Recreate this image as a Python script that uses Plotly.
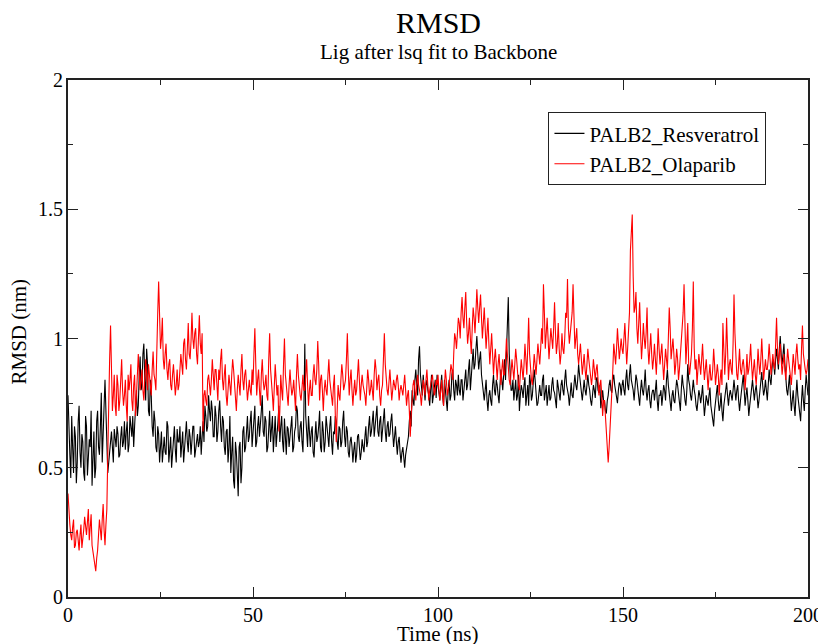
import plotly.graph_objects as go

# sampling interval of the trajectory (ns)
dt_ns = 0.25

# y-axis tick values and labels (nm)
y_tick_vals = [0, 0.5, 1, 1.5, 2]
y_tick_text = ["0", "0.5", "1", "1.5", "2"]

# RMSD (nm) of PALB2_Resveratrol at t = 0, 0.5, 1.0, ... 200 ns
resveratrol_a = [
    0.78, 0.55, 0.70, 0.48, 0.62, 0.52, 0.74, 0.50, 0.60, 0.45, 0.66, 0.53, 0.58, 0.43, 0.64, 0.50, 0.72, 0.55, 0.79, 0.60,
    0.84, 0.62, 0.52, 0.60, 0.56, 0.65, 0.58, 0.63, 0.55, 0.66, 0.60, 0.57, 0.68, 0.59, 0.64, 0.70, 0.66, 0.80, 0.74, 0.93,
    0.82, 0.98, 0.76, 0.90, 0.70, 0.78, 0.62, 0.68, 0.56, 0.63, 0.58, 0.52, 0.62, 0.55, 0.66, 0.58, 0.50, 0.62, 0.57, 0.65,
    0.60, 0.54, 0.64, 0.58, 0.68, 0.56, 0.62, 0.59, 0.66, 0.57, 0.63, 0.60, 0.55, 0.68, 0.74, 0.64, 0.78, 0.68, 0.72, 0.62,
    0.70, 0.64, 0.76, 0.60, 0.68, 0.55, 0.65, 0.58, 0.48, 0.62, 0.42, 0.56, 0.39, 0.60, 0.50, 0.66, 0.58, 0.70, 0.62, 0.72,
    0.64, 0.74, 0.60, 0.70, 0.66, 0.78, 0.62, 0.68, 0.58, 0.72, 0.64, 0.56, 0.70, 0.62, 0.74, 0.66, 0.60, 0.69, 0.55, 0.65,
    0.62, 0.70, 0.58, 0.66, 0.72, 0.60, 0.68, 0.56, 0.98, 0.64, 0.70, 0.58, 0.66, 0.54, 0.68, 0.62, 0.72, 0.56, 0.64, 0.60,
    0.66, 0.58, 0.70, 0.55, 0.63, 0.68, 0.57, 0.65, 0.60, 0.72, 0.58, 0.64, 0.54, 0.62, 0.52, 0.60, 0.55, 0.63, 0.53, 0.61,
    0.56, 0.66, 0.60, 0.70, 0.64, 0.72, 0.66, 0.74, 0.62, 0.70, 0.65, 0.73, 0.60, 0.68, 0.63, 0.71, 0.58, 0.66, 0.55, 0.62,
    0.52, 0.58, 0.50, 0.57, 0.62, 0.72, 0.80, 0.74, 0.88, 0.78, 0.97, 0.82, 0.86, 0.76, 0.84, 0.78, 0.82, 0.75, 0.80, 0.77,
    0.82, 0.76, 0.86, 0.74, 0.80, 0.72, 0.84, 0.78, 0.88, 0.76, 0.82, 0.86, 0.78, 0.84, 0.80, 0.88, 0.82, 0.92, 0.85, 0.96,
    0.90, 1.01, 0.88, 0.95, 0.82, 0.76, 0.84, 0.72, 0.80, 0.74, 0.86, 0.78, 0.82, 0.75, 0.88, 0.80, 0.92, 0.98, 1.16, 0.86,
    0.80, 0.76, 0.84, 0.78, 0.72, 0.82, 0.77, 0.85, 0.79, 0.74, 0.83, 0.78, 0.88, 0.80, 0.75, 0.82, 0.78, 0.86, 0.80, 0.74,
    0.82, 0.77, 0.85, 0.79, 0.73, 0.81, 0.76, 0.84, 0.78, 0.88, 0.80, 0.74, 0.83, 0.77, 0.86, 0.80, 0.90, 0.82, 0.76, 0.84,
    0.78, 0.86, 0.80, 0.74, 0.82, 0.77, 0.85, 0.79, 0.73, 0.80, 0.76, 0.71, 0.78, 0.84, 0.79, 0.86, 0.80, 0.75, 0.83, 0.78,
    0.84, 0.78, 0.88, 0.80, 0.90, 0.82, 0.76, 0.86, 0.80, 0.74, 0.84, 0.78, 0.88, 0.76, 0.82, 0.73, 0.80, 0.76, 0.84, 0.72,
    0.78, 0.74, 0.82, 0.76, 0.88, 0.78, 0.72, 0.80, 0.75, 0.84, 0.78, 0.72, 0.86, 0.80, 0.74, 0.90, 0.82, 0.76, 0.84, 0.78,
    0.72, 0.80, 0.75, 0.82, 0.70, 0.78, 0.74, 0.81, 0.71, 0.66, 0.76, 0.82, 0.72, 0.79, 0.68, 0.77, 0.83, 0.74, 0.80, 0.76,
    0.84, 0.76, 0.82, 0.72, 0.79, 0.86, 0.74, 0.81, 0.70, 0.78, 0.84, 0.76, 0.82, 0.73, 0.80, 0.87, 0.78, 0.84, 0.76, 0.88,
    0.82, 0.92, 0.86, 0.96, 0.88, 1.01, 0.90, 0.98, 0.84, 0.78, 0.86, 0.72, 0.80, 0.70, 0.84, 0.74, 0.68, 0.82, 0.72, 0.86,
    0.78,
]

# RMSD (nm) of PALB2_Resveratrol at t = 0.25, 0.75, ... 199.75 ns
resveratrol_b = [
    0.62, 0.46, 0.58, 0.66, 0.44, 0.68, 0.56, 0.63, 0.48, 0.70, 0.47, 0.61, 0.72, 0.55, 0.46, 0.68, 0.58, 0.66, 0.52, 0.74,
    0.70, 0.48, 0.58, 0.64, 0.52, 0.60, 0.66, 0.54, 0.62, 0.58, 0.68, 0.64, 0.56, 0.70, 0.62, 0.58, 0.76, 0.70, 0.86, 0.80,
    0.94, 0.84, 0.96, 0.72, 0.84, 0.66, 0.72, 0.58, 0.66, 0.52, 0.64, 0.60, 0.56, 0.68, 0.52, 0.62, 0.56, 0.66, 0.52, 0.60,
    0.66, 0.60, 0.52, 0.62, 0.60, 0.65, 0.55, 0.66, 0.54, 0.62, 0.58, 0.66, 0.62, 0.60, 0.70, 0.66, 0.72, 0.76, 0.62, 0.74,
    0.60, 0.72, 0.66, 0.70, 0.58, 0.64, 0.52, 0.70, 0.56, 0.45, 0.60, 0.48, 0.58, 0.44, 0.64, 0.56, 0.64, 0.60, 0.68, 0.58,
    0.70, 0.58, 0.66, 0.62, 0.72, 0.64, 0.70, 0.56, 0.66, 0.60, 0.70, 0.62, 0.58, 0.68, 0.60, 0.70, 0.56, 0.62, 0.66, 0.58,
    0.66, 0.56, 0.64, 0.74, 0.62, 0.66, 0.60, 0.72, 0.70, 0.58, 0.62, 0.64, 0.56, 0.62, 0.60, 0.66, 0.58, 0.68, 0.56, 0.70,
    0.62, 0.66, 0.60, 0.64, 0.70, 0.60, 0.66, 0.58, 0.68, 0.62, 0.66, 0.56, 0.60, 0.58, 0.57, 0.52, 0.62, 0.58, 0.56, 0.58,
    0.62, 0.58, 0.66, 0.62, 0.68, 0.62, 0.70, 0.64, 0.68, 0.60, 0.72, 0.64, 0.66, 0.62, 0.68, 0.64, 0.62, 0.60, 0.60, 0.56,
    0.56, 0.54, 0.55, 0.60, 0.68, 0.66, 0.76, 0.84, 0.82, 0.92, 0.86, 0.78, 0.80, 0.82, 0.80, 0.74, 0.86, 0.79, 0.84, 0.86,
    0.78, 0.82, 0.78, 0.84, 0.76, 0.80, 0.76, 0.86, 0.80, 0.84, 0.78, 0.80, 0.84, 0.76, 0.86, 0.80, 0.88, 0.80, 0.90, 0.88,
    0.96, 0.94, 0.92, 0.86, 0.78, 0.80, 0.76, 0.78, 0.76, 0.82, 0.80, 0.84, 0.78, 0.82, 0.84, 0.86, 0.84, 1.04, 0.94, 0.80,
    0.84, 0.80, 0.76, 0.86, 0.78, 0.80, 0.82, 0.74, 0.82, 0.86, 0.76, 0.82, 0.84, 0.74, 0.80, 0.78, 0.84, 0.76, 0.82, 0.80,
    0.76, 0.82, 0.80, 0.76, 0.84, 0.78, 0.82, 0.80, 0.84, 0.82, 0.78, 0.80, 0.78, 0.82, 0.82, 0.84, 0.86, 0.78, 0.80, 0.80,
    0.82, 0.82, 0.76, 0.78, 0.80, 0.84, 0.80, 0.82, 0.76, 0.76, 0.72, 0.76, 0.82, 0.80, 0.84, 0.82, 0.78, 0.80, 0.82, 0.82,
    0.80, 0.84, 0.82, 0.86, 0.84, 0.80, 0.82, 0.84, 0.76, 0.80, 0.80, 0.82, 0.80, 0.80, 0.76, 0.78, 0.80, 0.80, 0.76, 0.78,
    0.80, 0.78, 0.80, 0.84, 0.82, 0.76, 0.78, 0.76, 0.80, 0.82, 0.74, 0.80, 0.82, 0.76, 0.80, 0.84, 0.78, 0.80, 0.80, 0.74,
    0.76, 0.78, 0.78, 0.76, 0.74, 0.76, 0.78, 0.74, 0.70, 0.72, 0.80, 0.76, 0.74, 0.72, 0.74, 0.80, 0.78, 0.78, 0.78, 0.80,
    0.80, 0.80, 0.76, 0.76, 0.82, 0.80, 0.78, 0.76, 0.74, 0.82, 0.80, 0.80, 0.78, 0.76, 0.84, 0.82, 0.80, 0.80, 0.82, 0.84,
    0.88, 0.90, 0.92, 0.92, 0.96, 0.94, 0.94, 0.90, 0.80, 0.82, 0.78, 0.76, 0.74, 0.78, 0.78, 0.70, 0.76, 0.76, 0.80, 0.82,
]

# RMSD (nm) of PALB2_Olaparib at t = 0, 0.5, 1.0, ... 200 ns
olaparib_a = [
    0.40, 0.28, 0.22, 0.30, 0.20, 0.26, 0.18, 0.28, 0.22, 0.31, 0.24, 0.34, 0.27, 0.20, 0.14, 0.10, 0.18, 0.30, 0.22, 0.36,
    0.20, 0.34, 0.78, 1.05, 0.72, 0.86, 0.70, 0.82, 0.76, 0.92, 0.74, 0.84, 0.68, 0.80, 0.90, 0.72, 0.86, 0.78, 0.94, 0.80,
    0.88, 0.76, 0.92, 0.80, 0.86, 0.78, 0.95, 0.84, 1.02, 1.22, 0.96, 1.08, 0.88, 0.98, 0.84, 0.92, 0.80, 0.90, 0.78, 0.88,
    0.82, 0.94, 0.86, 1.00, 0.88, 1.06, 0.92, 1.10, 0.96, 1.04, 0.90, 1.09, 0.94, 0.64, 0.80, 0.74, 0.86, 0.78, 0.92, 0.80,
    0.88, 0.76, 0.84, 0.96, 0.80, 0.90, 0.74, 0.86, 0.78, 0.92, 0.82, 0.72, 0.86, 0.78, 0.94, 0.80, 0.88, 0.76, 0.84, 0.78,
    0.82, 1.04, 0.78, 0.88, 0.74, 0.92, 0.80, 0.86, 0.76, 1.02, 0.84, 0.72, 0.90, 0.78, 0.64, 0.86, 0.76, 1.00, 0.82, 0.74,
    0.88, 0.78, 0.84, 0.72, 0.94, 0.80, 0.76, 0.86, 0.80, 0.92, 0.74, 0.84, 0.78, 0.90, 0.82, 0.99, 0.76, 0.86, 0.72, 0.84,
    0.78, 0.92, 0.80, 0.74, 0.86, 0.60, 0.82, 0.76, 0.90, 0.80, 0.84, 1.02, 0.78, 0.88, 0.74, 0.84, 0.80, 0.92, 0.76, 0.86,
    0.80, 0.74, 0.88, 0.78, 0.84, 0.76, 0.92, 0.80, 0.86, 0.74, 0.82, 1.02, 0.84, 0.78, 0.88, 0.76, 0.84, 0.80, 0.86, 0.76,
    0.82, 0.78, 0.86, 0.74, 0.80, 0.62, 0.78, 0.84, 0.76, 0.86, 0.80, 0.74, 0.84, 0.78, 0.88, 0.76, 0.82, 0.86, 0.78, 0.84,
    0.86, 0.76, 0.84, 0.74, 0.88, 0.78, 0.82, 0.90, 0.84, 1.02, 0.96, 1.08, 1.00, 1.16, 1.04, 1.18, 0.98, 1.08, 0.94, 1.12,
    1.02, 1.19, 1.06, 1.17, 1.00, 1.12, 0.96, 1.08, 0.90, 1.02, 0.86, 0.96, 0.84, 0.94, 0.82, 0.92, 0.86, 1.00, 0.88, 0.82,
    0.92, 0.84, 0.96, 0.86, 0.80, 0.92, 0.84, 0.98, 0.86, 1.08, 0.88, 0.82, 0.94, 0.86, 0.98, 0.90, 1.04, 1.21, 0.96, 1.08,
    0.92, 1.04, 0.96, 1.14, 0.94, 1.06, 0.90, 1.02, 0.94, 1.10, 1.23, 0.98, 1.06, 1.21, 0.96, 1.04, 0.90, 0.98, 0.86, 0.94,
    0.84, 0.96, 0.88, 0.82, 0.92, 0.84, 0.90, 0.78, 0.84, 0.70, 0.76, 0.62, 0.52, 0.68, 0.80, 0.98, 0.90, 1.04, 0.92, 1.00,
    0.94, 1.06, 0.90, 1.02, 1.34, 1.48, 1.10, 1.18, 0.98, 1.14, 0.92, 1.06, 0.96, 1.12, 0.90, 1.02, 0.88, 0.98, 0.86, 1.04,
    0.90, 0.98, 0.84, 0.96, 0.88, 1.12, 0.92, 1.00, 0.86, 0.96, 0.84, 0.94, 1.02, 1.21, 0.90, 1.06, 0.86, 0.94, 1.22, 0.88,
    0.82, 0.94, 0.86, 0.98, 0.84, 0.92, 0.80, 0.90, 0.84, 0.96, 0.82, 0.90, 0.78, 0.88, 1.06, 0.86, 1.08, 0.84, 0.92, 0.86,
    1.17, 0.90, 0.84, 0.96, 0.86, 0.92, 0.80, 0.94, 0.88, 0.98, 0.84, 0.92, 0.82, 0.96, 0.86, 1.00, 0.84, 0.92, 0.88, 0.98,
    0.86, 0.94, 0.88, 1.08, 0.90, 0.98, 0.86, 0.94, 0.84, 0.96, 0.88, 0.82, 0.94, 0.86, 0.98, 0.88, 0.84, 1.05, 0.90, 0.86,
    0.92,
]

# RMSD (nm) of PALB2_Olaparib at t = 0.25, 0.75, ... 199.75 ns
olaparib_b = [
    0.32, 0.24, 0.27, 0.19, 0.25, 0.22, 0.24, 0.19, 0.26, 0.27, 0.29, 0.22, 0.32, 0.17, 0.12, 0.15, 0.24, 0.26, 0.30, 0.26,
    0.28, 0.55, 0.92, 0.80, 0.78, 0.74, 0.86, 0.72, 0.84, 0.80, 0.78, 0.74, 0.86, 0.84, 0.76, 0.82, 0.70, 0.88, 0.86, 0.84,
    0.80, 0.84, 0.86, 0.90, 0.82, 0.88, 0.86, 0.80, 1.10, 1.04, 1.00, 0.92, 0.94, 0.88, 0.90, 0.82, 0.86, 0.84, 0.82, 0.80,
    0.88, 0.90, 0.98, 0.92, 0.96, 0.94, 0.99, 1.00, 1.02, 0.94, 1.00, 0.98, 1.02, 0.78, 0.76, 0.84, 0.82, 0.84, 0.86, 0.88,
    0.82, 0.88, 0.92, 0.84, 0.86, 0.78, 0.80, 0.82, 0.86, 0.88, 0.76, 0.80, 0.82, 0.88, 0.84, 0.86, 0.82, 0.80, 0.80, 0.88,
    0.94, 0.90, 0.84, 0.80, 0.86, 0.84, 0.82, 0.78, 0.92, 0.88, 0.78, 0.82, 0.84, 0.82, 0.72, 0.80, 0.90, 0.86, 0.78, 0.82,
    0.82, 0.80, 0.78, 0.86, 0.86, 0.78, 0.82, 0.80, 0.86, 0.82, 0.80, 0.78, 0.86, 0.84, 0.88, 0.90, 0.84, 0.80, 0.80, 0.80,
    0.86, 0.84, 0.78, 0.82, 0.70, 0.72, 0.78, 0.84, 0.86, 0.82, 0.92, 0.88, 0.84, 0.80, 0.80, 0.78, 0.86, 0.84, 0.82, 0.82,
    0.78, 0.82, 0.84, 0.80, 0.80, 0.86, 0.88, 0.84, 0.78, 0.80, 0.92, 0.90, 0.80, 0.84, 0.82, 0.80, 0.82, 0.84, 0.82, 0.80,
    0.80, 0.82, 0.80, 0.78, 0.72, 0.70, 0.82, 0.80, 0.82, 0.82, 0.78, 0.80, 0.82, 0.84, 0.82, 0.80, 0.84, 0.82, 0.80, 0.82,
    0.80, 0.80, 0.78, 0.82, 0.84, 0.80, 0.86, 0.88, 0.94, 1.00, 1.02, 1.06, 1.10, 1.08, 1.12, 1.06, 1.02, 1.00, 1.04, 1.08,
    1.10, 1.12, 1.12, 1.08, 1.06, 1.04, 1.02, 0.98, 0.96, 0.94, 0.92, 0.90, 0.90, 0.88, 0.88, 0.86, 0.92, 0.94, 0.84, 0.86,
    0.88, 0.90, 0.92, 0.82, 0.86, 0.88, 0.90, 0.92, 0.96, 0.94, 0.84, 0.88, 0.90, 0.92, 0.94, 0.96, 0.98, 1.10, 1.02, 1.00,
    0.98, 1.00, 1.04, 1.02, 0.98, 0.96, 0.94, 0.96, 1.00, 1.08, 1.04, 1.02, 1.10, 1.00, 1.00, 0.94, 0.94, 0.92, 0.90, 0.88,
    0.90, 0.92, 0.84, 0.86, 0.88, 0.88, 0.84, 0.82, 0.78, 0.76, 0.70, 0.58, 0.58, 0.74, 0.88, 0.94, 0.96, 0.98, 0.96, 0.96,
    1.00, 0.98, 0.96, 1.10, 1.40, 1.24, 1.12, 1.04, 1.06, 1.02, 0.98, 1.00, 1.02, 0.96, 0.96, 0.94, 0.92, 0.92, 0.94, 0.96,
    0.94, 0.90, 0.90, 0.92, 1.00, 1.04, 0.96, 0.94, 0.90, 0.92, 0.88, 0.96, 1.10, 1.00, 0.98, 0.90, 0.90, 1.04, 0.96, 0.92,
    0.88, 0.90, 0.92, 0.90, 0.88, 0.86, 0.86, 0.84, 0.88, 0.90, 0.86, 0.86, 0.84, 0.82, 0.96, 0.94, 0.96, 0.90, 0.88, 0.98,
    1.02, 0.86, 0.90, 0.88, 0.90, 0.88, 0.86, 0.86, 0.92, 0.90, 0.88, 0.86, 0.88, 0.90, 0.92, 0.92, 0.88, 0.88, 0.92, 0.92,
    0.90, 0.90, 0.98, 0.96, 0.94, 0.92, 0.90, 0.88, 0.90, 0.92, 0.84, 0.88, 0.90, 0.94, 0.92, 0.90, 0.96, 0.94, 0.88, 0.88,
]

series_names = ["PALB2_Resveratrol", "PALB2_Olaparib"]
series_colors = ["#000000", "#ff0000"]


def merge(a, b):
    """Interleave the on-step (a) and off-step (b) samples in time order."""
    t, y = [], []
    for i, v in enumerate(a):
        t.append(2 * i * dt_ns)
        y.append(v)
        if i < len(b):
            t.append((2 * i + 1) * dt_ns)
            y.append(b[i])
    return t, y


t_res, y_res = merge(resveratrol_a, resveratrol_b)
t_ola, y_ola = merge(olaparib_a, olaparib_b)

FONT = "Liberation Serif, Times New Roman, Times, DejaVu Serif, serif"
BLACK = "#000000"
AXC = "#222222"

fig = go.Figure()
fig.add_trace(go.Scatter(x=t_res, y=y_res, mode="lines", name=series_names[0],
                         line=dict(color=series_colors[0], width=1.1)))
fig.add_trace(go.Scatter(x=t_ola, y=y_ola, mode="lines", name=series_names[1],
                         line=dict(color=series_colors[1], width=1.1)))

axis_common = dict(
    showgrid=False, zeroline=False, showline=True, linecolor=AXC, linewidth=1.6,
    mirror="ticks", ticks="inside", ticklen=10, tickwidth=1.2, tickcolor=AXC,
    tickfont=dict(family=FONT, size=20, color=BLACK), automargin=False,
)

annotations = [
    dict(text="RMSD", x=0.5, y=1, xref="paper", yref="paper", xanchor="center", yanchor="middle",
         yshift=58, showarrow=False, font=dict(family=FONT, size=30, color=BLACK)),
    dict(text="Lig after lsq fit to Backbone", x=0.5, y=1, xref="paper", yref="paper",
         xanchor="center", yanchor="middle", yshift=28, showarrow=False,
         font=dict(family=FONT, size=21, color=BLACK)),
    dict(text="Time (ns)", x=0.5, y=0, xref="paper", yref="paper",
         xanchor="center", yanchor="middle", yshift=-37, showarrow=False,
         font=dict(family=FONT, size=21, color=BLACK)),
    dict(text="RMSD (nm)", x=0, y=0.5, xref="paper", yref="paper", textangle=-90,
         xanchor="center", yanchor="middle", xshift=-50, yshift=7, showarrow=False,
         font=dict(family=FONT, size=21, color=BLACK)),
]
# y tick labels placed just left of the axis line
for v, s in zip(y_tick_vals, y_tick_text):
    annotations.append(dict(text=s, x=0, y=v, xref="paper", yref="y", xanchor="right",
                            yanchor="middle", xshift=-3, showarrow=False,
                            font=dict(family=FONT, size=20, color=BLACK)))

# the page body adds an 8 px offset, so the figure is 8 px smaller and margins shifted
fig.update_layout(
    width=818, height=636,
    margin=dict(l=60, r=18, t=72, b=47, autoexpand=False),
    paper_bgcolor="white", plot_bgcolor="white",
    showlegend=True,
    legend=dict(x=0.649, y=0.938, xanchor="left", yanchor="top",
                bordercolor=AXC, borderwidth=1.2, bgcolor="white",
                font=dict(family=FONT, size=21, color=BLACK),
                tracegroupgap=0, itemwidth=30),
    annotations=annotations,
)

fig.update_xaxes(range=[0, 200], dtick=50, tick0=0, ticklabelstandoff=-1,
                 minor=dict(dtick=25, ticks="inside", ticklen=5, tickcolor=AXC, tickwidth=1.2),
                 **axis_common)
fig.update_yaxes(range=[0, 2], tickvals=y_tick_vals, showticklabels=False,
                 minor=dict(dtick=0.25, ticks="inside", ticklen=5, tickcolor=AXC, tickwidth=1.2),
                 **axis_common)

fig.write_html("out.html")
